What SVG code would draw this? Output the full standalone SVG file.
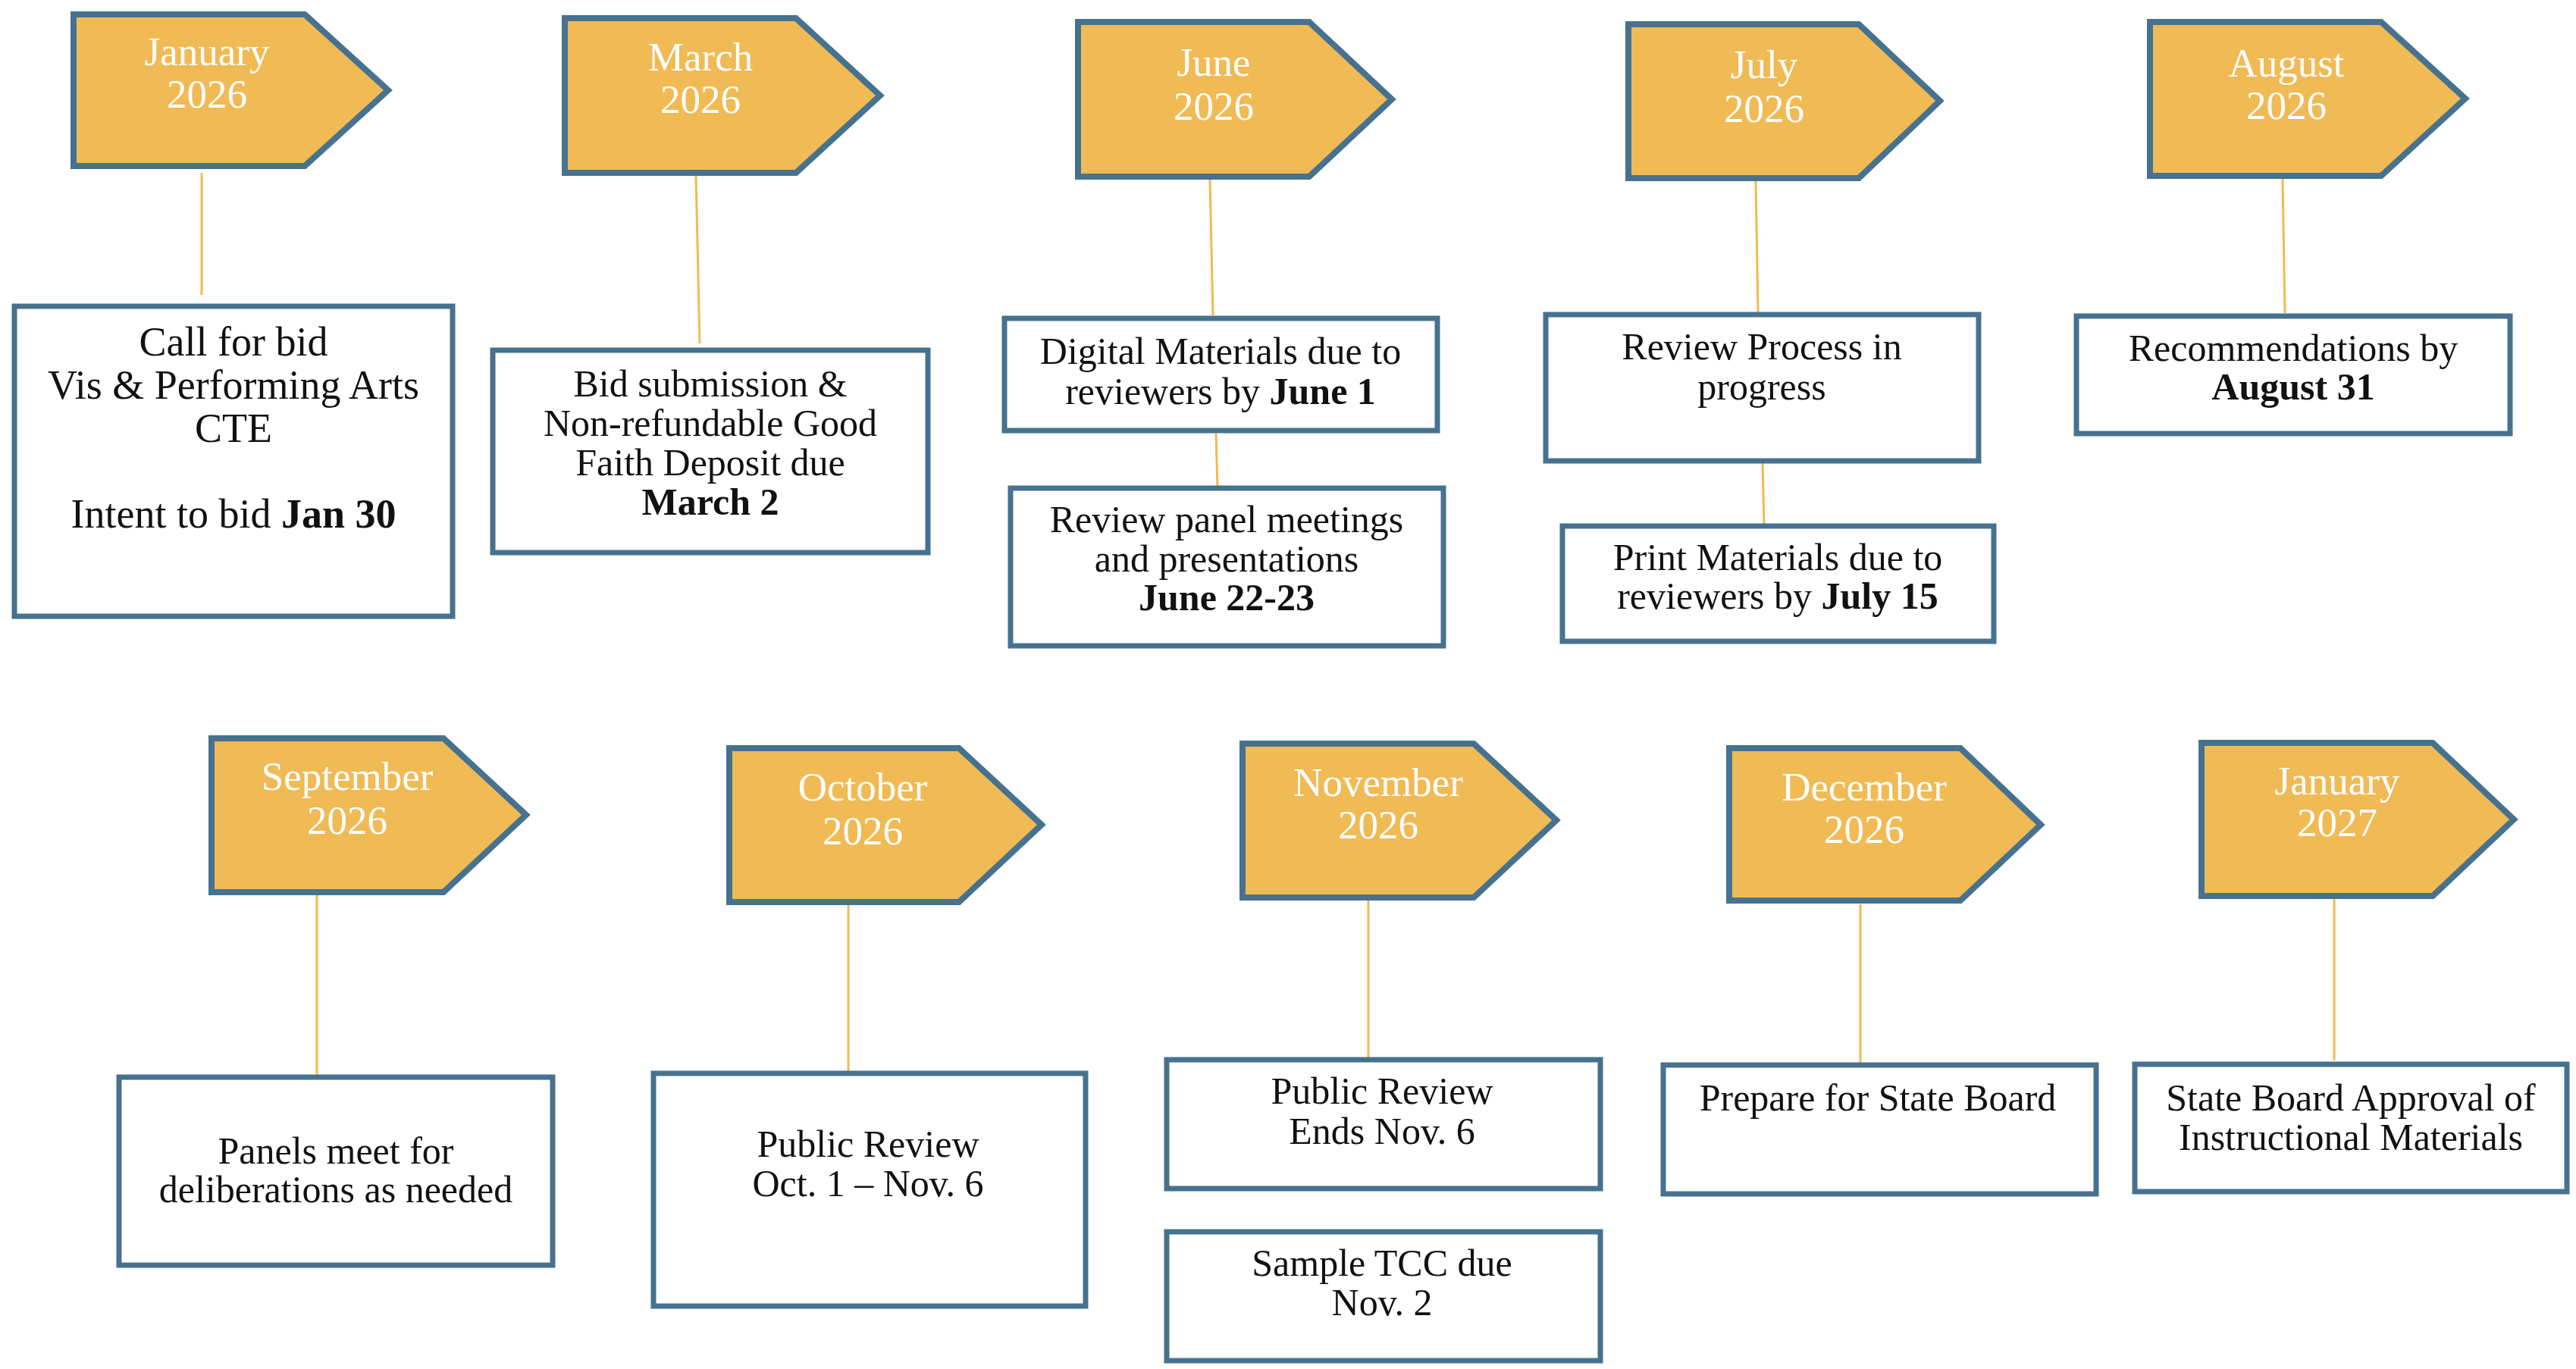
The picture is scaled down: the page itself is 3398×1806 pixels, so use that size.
<svg xmlns="http://www.w3.org/2000/svg" width="3398" height="1806" viewBox="0 0 3398 1806">
<style>
.pent{fill:#F0BA55;stroke:#46728F;stroke-width:8;stroke-linejoin:miter}
.box{fill:#FFFFFF;stroke:#46728F;stroke-width:7}
.mon{font-family:"Liberation Serif","Times New Roman",serif;font-size:53px;fill:#FFFFFF;text-anchor:middle}
.txt{font-family:"Liberation Serif","Times New Roman",serif;font-size:50px;fill:#111111;text-anchor:middle}
.big{font-size:54px}
.b{font-weight:bold}
.con{stroke:#F2B950;stroke-width:3;fill:none}
</style>
<rect x="0" y="0" width="3398" height="1806" fill="#FFFFFF"/>
<g id="connectors">
<line class="con" x1="266" y1="228" x2="266" y2="389"/>
<line class="con" x1="918" y1="232" x2="923" y2="453"/>
<line class="con" x1="1596" y1="236" x2="1600" y2="416"/>
<line class="con" x1="1604" y1="572" x2="1606" y2="642"/>
<line class="con" x1="2316" y1="239" x2="2319" y2="413"/>
<line class="con" x1="2325" y1="610" x2="2327" y2="694"/>
<line class="con" x1="3011" y1="236" x2="3014" y2="413"/>
<line class="con" x1="418" y1="1180" x2="418" y2="1418"/>
<line class="con" x1="1119" y1="1193" x2="1119" y2="1415"/>
<line class="con" x1="1805" y1="1188" x2="1805" y2="1410"/>
<line class="con" x1="2454" y1="1193" x2="2454" y2="1404"/>
<line class="con" x1="3079" y1="1179" x2="3079" y2="1399"/>
</g>
<g id="m-jan-2026">
<path class="pent" d="M97,19 L402,19 L512,119 L402,219 L97,219 Z"/>
<text class="mon" x="273" y="86">January</text>
<text class="mon" x="273" y="142">2026</text>
</g>
<g id="m-mar-2026">
<path class="pent" d="M745,24 L1050,24 L1161,126 L1050,228 L745,228 Z"/>
<text class="mon" x="924" y="93">March</text>
<text class="mon" x="924" y="149">2026</text>
</g>
<g id="m-jun-2026">
<path class="pent" d="M1422,29 L1727,29 L1836,131 L1727,233 L1422,233 Z"/>
<text class="mon" x="1601" y="100">June</text>
<text class="mon" x="1601" y="158">2026</text>
</g>
<g id="m-jul-2026">
<path class="pent" d="M2148,32 L2452,32 L2559,133 L2452,235 L2148,235 Z"/>
<text class="mon" x="2327" y="103">July</text>
<text class="mon" x="2327" y="161">2026</text>
</g>
<g id="m-aug-2026">
<path class="pent" d="M2836,29 L3141,29 L3252,130 L3141,232 L2836,232 Z"/>
<text class="mon" x="3016" y="101">August</text>
<text class="mon" x="3016" y="157">2026</text>
</g>
<g id="m-sep-2026">
<path class="pent" d="M279,974 L585,974 L694,1075 L585,1177 L279,1177 Z"/>
<text class="mon" x="458" y="1042">September</text>
<text class="mon" x="458" y="1100">2026</text>
</g>
<g id="m-oct-2026">
<path class="pent" d="M962,987 L1265,987 L1374,1088 L1265,1190 L962,1190 Z"/>
<text class="mon" x="1138" y="1056">October</text>
<text class="mon" x="1138" y="1114">2026</text>
</g>
<g id="m-nov-2026">
<path class="pent" d="M1639,981 L1944,981 L2053,1082 L1944,1184 L1639,1184 Z"/>
<text class="mon" x="1818" y="1050">November</text>
<text class="mon" x="1818" y="1106">2026</text>
</g>
<g id="m-dec-2026">
<path class="pent" d="M2281,987 L2586,987 L2692,1088 L2586,1188 L2281,1188 Z"/>
<text class="mon" x="2459" y="1056">December</text>
<text class="mon" x="2459" y="1112">2026</text>
</g>
<g id="m-jan-2027">
<path class="pent" d="M2904,980 L3209,980 L3316,1081 L3209,1182 L2904,1182 Z"/>
<text class="mon" x="3083" y="1048">January</text>
<text class="mon" x="3083" y="1103">2027</text>
</g>
<g id="call-for-bid">
<rect class="box" x="19" y="404" width="578" height="409"/>
<text class="txt big" x="308" y="469">Call for bid</text>
<text class="txt big" x="308" y="526">Vis &amp; Performing Arts</text>
<text class="txt big" x="308" y="583">CTE</text>
<text class="txt big" x="308" y="696">Intent to bid <tspan class="b">Jan 30</tspan></text>
</g>
<g id="bid-submission">
<rect class="box" x="650" y="462" width="574" height="267"/>
<text class="txt" x="937" y="523">Bid submission &amp;</text>
<text class="txt" x="937" y="575">Non-refundable Good</text>
<text class="txt" x="937" y="627">Faith Deposit due</text>
<text class="txt b" x="937" y="679">March 2</text>
</g>
<g id="digital-materials">
<rect class="box" x="1325" y="420" width="571" height="148"/>
<text class="txt" x="1610" y="480">Digital Materials due to</text>
<text class="txt" x="1610" y="533">reviewers by <tspan class="b">June 1</tspan></text>
</g>
<g id="review-panel">
<rect class="box" x="1333" y="644" width="571" height="208"/>
<text class="txt" x="1618" y="702">Review panel meetings</text>
<text class="txt" x="1618" y="754">and presentations</text>
<text class="txt b" x="1618" y="805">June 22-23</text>
</g>
<g id="review-process">
<rect class="box" x="2039" y="415" width="571" height="193"/>
<text class="txt" x="2324" y="474">Review Process in</text>
<text class="txt" x="2324" y="527">progress</text>
</g>
<g id="print-materials">
<rect class="box" x="2061" y="694" width="569" height="152"/>
<text class="txt" x="2345" y="752">Print Materials due to</text>
<text class="txt" x="2345" y="803">reviewers by <tspan class="b">July 15</tspan></text>
</g>
<g id="recommendations">
<rect class="box" x="2739" y="417" width="572" height="155"/>
<text class="txt" x="3025" y="476">Recommendations by</text>
<text class="txt b" x="3025" y="527">August 31</text>
</g>
<g id="panels-meet">
<rect class="box" x="157" y="1421" width="572" height="248"/>
<text class="txt" x="443" y="1535">Panels meet for</text>
<text class="txt" x="443" y="1586">deliberations as needed</text>
</g>
<g id="public-review">
<rect class="box" x="862" y="1416" width="570" height="307"/>
<text class="txt" x="1145" y="1526">Public Review</text>
<text class="txt" x="1145" y="1578">Oct. 1 – Nov. 6</text>
</g>
<g id="public-review-ends">
<rect class="box" x="1539" y="1398" width="572" height="170"/>
<text class="txt" x="1823" y="1456">Public Review</text>
<text class="txt" x="1823" y="1509">Ends Nov. 6</text>
</g>
<g id="sample-tcc">
<rect class="box" x="1539" y="1625" width="572" height="170"/>
<text class="txt" x="1823" y="1683">Sample TCC due</text>
<text class="txt" x="1823" y="1735">Nov. 2</text>
</g>
<g id="prepare-state-board">
<rect class="box" x="2194" y="1405" width="571" height="170"/>
<text class="txt" x="2477" y="1465">Prepare for State Board</text>
</g>
<g id="state-board-approval">
<rect class="box" x="2816" y="1404" width="570" height="168"/>
<text class="txt" x="3101" y="1465">State Board Approval of</text>
<text class="txt" x="3101" y="1517">Instructional Materials</text>
</g>
</svg>
